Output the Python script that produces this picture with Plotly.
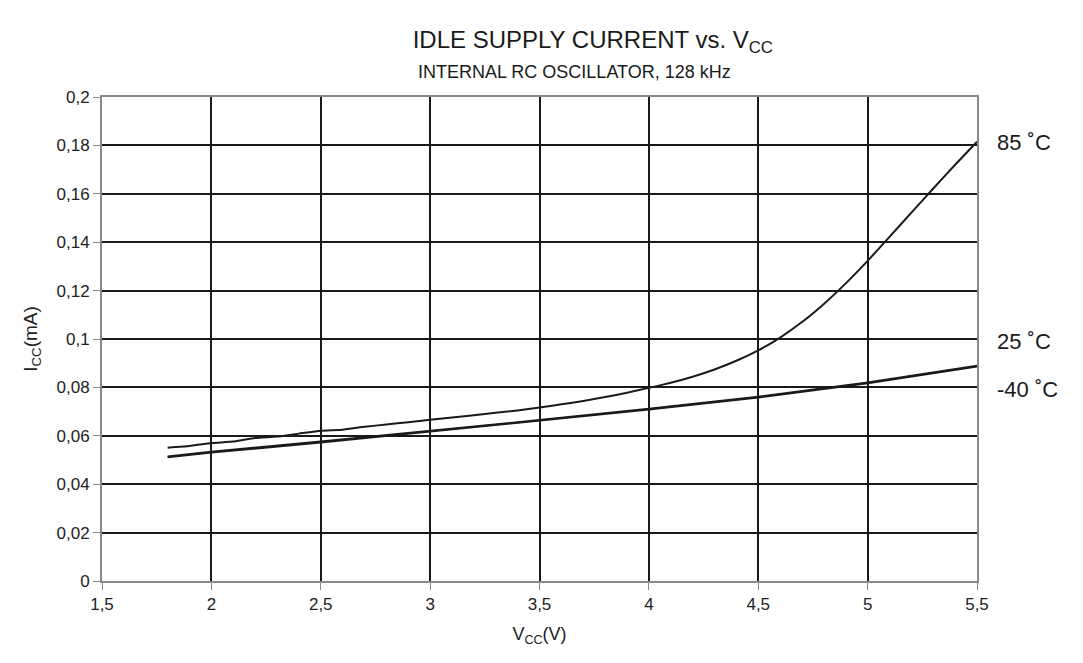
import plotly.graph_objects as go

# Supply voltage (V) and idle current (mA)
vcc_85 = [1.8, 1.9, 2.0, 2.1, 2.2, 2.3, 2.4, 2.5, 2.6, 2.7, 2.8, 2.9, 3.0, 3.2, 3.4, 3.5,
          3.6, 3.7, 3.8, 3.9, 4.0, 4.1, 4.2, 4.3, 4.4, 4.5, 4.6, 4.7, 4.8, 4.9, 5.0,
          5.1, 5.2, 5.3, 5.4, 5.5]
icc_85 = [0.0551, 0.0558, 0.0570, 0.0576, 0.0591, 0.0597, 0.0609, 0.0621, 0.0625, 0.0637,
          0.0647, 0.0656, 0.0666, 0.0685, 0.0705, 0.0717, 0.0730, 0.0744, 0.0760, 0.0778,
          0.0798, 0.0819, 0.0844, 0.0874, 0.0910, 0.0953, 0.1006, 0.1070, 0.1145, 0.1230,
          0.1323, 0.1422, 0.1522, 0.1622, 0.1720, 0.1815]

vcc_low = [1.8, 2.0, 2.5, 3.0, 3.5, 4.0, 4.5, 5.0, 5.5]
icc_25 = [0.0514, 0.0534, 0.0576, 0.0620, 0.0665, 0.0712, 0.0761, 0.0820, 0.0889]
icc_m40 = [0.0511, 0.0531, 0.0572, 0.0617, 0.0662, 0.0709, 0.0758, 0.0817, 0.0886]

x_ticks = [1.5, 2, 2.5, 3, 3.5, 4, 4.5, 5, 5.5]
x_text = ["1,5", "2", "2,5", "3", "3,5", "4", "4,5", "5", "5,5"]
y_ticks = [0, 0.02, 0.04, 0.06, 0.08, 0.1, 0.12, 0.14, 0.16, 0.18, 0.2]
y_text = ["0", "0,02", "0,04", "0,06", "0,08", "0,1", "0,12", "0,14", "0,16", "0,18", "0,2"]

labels = ["85 ˚C", "25 ˚C", "-40 ˚C"]
label_y = [0.181, 0.099, 0.079]

FONT = "Liberation Sans, Arial, sans-serif"
INK = "#1a1a1a"

fig = go.Figure()
fig.add_trace(go.Scatter(x=vcc_85, y=icc_85, mode="lines",
                         line=dict(color=INK, width=2, shape="spline", smoothing=0.4)))
fig.add_trace(go.Scatter(x=vcc_low, y=icc_25, mode="lines", line=dict(color=INK, width=2)))
fig.add_trace(go.Scatter(x=vcc_low, y=icc_m40, mode="lines", line=dict(color=INK, width=2)))

# Temperature labels to the right of the plot
for txt, yy in zip(labels, label_y):
    fig.add_annotation(x=1.0, xref="paper", y=yy, yref="y", text=txt, showarrow=False,
                       xanchor="left", xshift=18, font=dict(family=FONT, size=22, color=INK))

fig.update_layout(
    width=1083, height=663,
    margin=dict(l=94, r=114, t=89, b=90),
    paper_bgcolor="white", plot_bgcolor="white",
    showlegend=False,
    font=dict(family=FONT, size=17, color="#222"),
    title=dict(text="IDLE SUPPLY CURRENT vs. V<sub>CC</sub>", x=0.54, xanchor="center",
               y=0.952, yanchor="middle", font=dict(family=FONT, size=24, color=INK)),
)
fig.add_annotation(x=0.54, xref="paper", y=1.0, yref="paper", yshift=25, yanchor="middle",
                   text="INTERNAL RC OSCILLATOR, 128 kHz", showarrow=False,
                   font=dict(family=FONT, size=18, color=INK))

fig.update_xaxes(range=[1.5, 5.5], tickvals=x_ticks, ticktext=x_text, showgrid=True,
                 gridcolor=INK, gridwidth=2, showline=True, linecolor="#888", linewidth=2,
                 mirror=True, ticks="outside", tickcolor="#888", ticklen=7, zeroline=False,
                 tickfont=dict(family=FONT, size=17, color="#222"),
                 title=dict(text="V<sub>CC</sub>(V)", font=dict(family=FONT, size=18), standoff=14))
fig.update_yaxes(range=[0, 0.2], tickvals=y_ticks, ticktext=y_text, showgrid=True,
                 gridcolor=INK, gridwidth=2, showline=True, linecolor="#888", linewidth=2,
                 mirror=True, ticks="outside", tickcolor="#888", ticklen=7, zeroline=False,
                 tickfont=dict(family=FONT, size=17, color="#222"),
                 title=dict(text="I<sub>CC</sub>(mA)", font=dict(family=FONT, size=19), standoff=14))

fig.write_html("out.html")
